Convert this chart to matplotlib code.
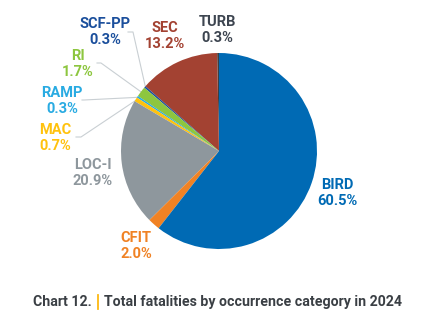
import numpy as np
import matplotlib
matplotlib.use('Agg')
import matplotlib.pyplot as plt

# data, counter-clockwise from the top
categories = ['TURB', 'SEC', 'SCF-PP', 'RI', 'RAMP', 'MAC', 'LOC-I', 'CFIT', 'BIRD']
shares = [0.3, 13.2, 0.3, 1.7, 0.3, 0.7, 20.9, 2.0, 60.5]
colors = ['#3d3f42', '#a34232', '#1b4f9c', '#8dc63f', '#29abe2',
          '#ffc20e', '#8e979d', '#f08224', '#006ab4']
label_colors = ['#3d4550', '#a34232', '#1b4f9c', '#8dc63f', '#29abe2',
                '#ffc20e', '#8e979d', '#f08224', '#006ab4']

# label placement in pixels (x, y of the first line centre)
label_px = {'TURB': (217, 22), 'SEC': (165, 28), 'SCF-PP': (105, 24),
            'RI': (78, 56), 'RAMP': (62, 93), 'MAC': (55, 130),
            'LOC-I': (93, 165), 'BIRD': (337, 185), 'CFIT': (136, 238)}
# leader line start (pixels) for the small slices
leader_px = {'SCF-PP': [(128, 32), (133, 32)], 'RI': [(97, 63), (101, 63)],
             'RAMP': [(82, 100), (84, 100)], 'MAC': [(76, 137), (81, 137)]}

W, H = 430, 328
CX, CY, R = 219, 151, 98

def px(x, y):
    return (x - CX) / R, (CY - y) / R

fig = plt.figure(figsize=(W / 100, H / 100), dpi=100)
ax = fig.add_axes([0, 0, 1, 1])
wedges, _ = ax.pie(shares, colors=colors, startangle=90, counterclock=True,
                   radius=1, center=(0, 0))
ax.set_xlim(-CX / R, (W - CX) / R)
ax.set_ylim((CY - H) / R, CY / R)
ax.set_aspect('equal')
ax.axis('off')

for name, share, col in zip(categories, shares, label_colors):
    lx, ly = px(*label_px[name])
    ax.text(lx, ly, name, color=col, fontsize=10.5, fontweight='bold',
            family='Roboto', ha='center', va='center')
    ax.text(lx, ly - 16 / R, '%.1f%%' % share, color=col, fontsize=10.5,
            fontweight='bold', family='Roboto', ha='center', va='center')

for w, name in zip(wedges, categories):
    if name not in leader_px:
        continue
    mid = np.deg2rad((w.theta1 + w.theta2) / 2)
    pts = [px(*p) for p in leader_px[name]]
    pts.append((0.99 * np.cos(mid), 0.99 * np.sin(mid)))
    xs, ys = zip(*pts)
    ax.plot(xs, ys, color='#c9cfd3', lw=0.8, zorder=0.5)

# caption
ty = 302
ax.text(*px(92, ty), 'Chart 12.', color='#3a3f44', fontsize=10.2,
        fontweight='bold', family='Roboto', ha='right', va='center')
ax.plot(*zip(px(98, ty - 7), px(98, ty + 7)), color='#fdb913', lw=1.3)
ax.text(*px(104, ty), 'Total fatalities by occurrence category in 2024',
        color='#3a3f44', fontsize=10.2, fontweight='bold', family='Roboto',
        ha='left', va='center')

fig.savefig('out.png', dpi=100, facecolor='white')
